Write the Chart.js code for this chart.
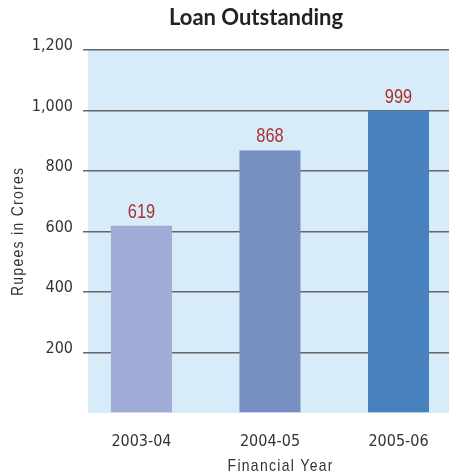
<!DOCTYPE html>
<html>
<head>
<meta charset="utf-8">
<script src="https://cdn.jsdelivr.net/npm/chart.js@4"></script>
<style>
  html, body { margin: 0; padding: 0; background: #fff; overflow: hidden; }
  #wrap { position: relative; width: 449px; height: 474px; }
</style>
</head>
<body>
<div id="wrap"><canvas id="loanChart" width="449" height="474"></canvas></div>
<script>
// Loan outstanding per financial year (Rs. crores)
const years = ['2003-04', '2004-05', '2005-06'];
const loanValues = [619, 868, 999];
const barColors = ['#a0acd6', '#788fc2', '#4782be'];
const yTicks = [0, 200, 400, 600, 800, 1000, 1200];

const chartTitle = 'Loan Outstanding';
const yTitle = 'Rupees in Crores';
const xTitle = 'Financial Year';

const condensed = '"DejaVu Sans Condensed", "DejaVu Sans", sans-serif';

// draw text squeezed horizontally (condensed look), optionally rotated
function drawSqueezed(ctx, text, x, y, opts) {
  ctx.save();
  ctx.translate(x, y);
  if (opts.rotate) ctx.rotate(opts.rotate);
  ctx.scale(opts.squeeze, 1);
  ctx.font = opts.font;
  ctx.fillStyle = opts.color;
  ctx.letterSpacing = (opts.spacing || 0) + 'px';
  ctx.textAlign = 'left';
  ctx.textBaseline = 'alphabetic';
  // measure without the trailing letter spacing so the text is centred
  const w = ctx.measureText(text).width - (opts.spacing || 0);
  ctx.fillText(text, -w / 2, 0);
  ctx.restore();
}

// light blue panel behind the plot
const plotBackground = {
  id: 'plotBackground',
  beforeDraw(chart) {
    const { ctx, chartArea } = chart;
    ctx.save();
    ctx.fillStyle = '#d7ebf9';
    ctx.fillRect(chartArea.left, chartArea.top, chartArea.right - chartArea.left, chartArea.bottom - chartArea.top);
    ctx.restore();
  }
};

// value above each bar, title and axis titles
const extraText = {
  id: 'extraText',
  afterDraw(chart) {
    const { ctx } = chart;
    const meta = chart.getDatasetMeta(0);
    meta.data.forEach((bar, i) => {
      drawSqueezed(ctx, String(loanValues[i]), bar.x, bar.y - 8, {
        font: '21px "Liberation Sans", sans-serif', squeeze: 0.78, color: '#a83232'
      });
    });

    ctx.save();
    ctx.fillStyle = '#222';
    ctx.font = 'bold 22px Lato, "Liberation Sans", sans-serif';
    ctx.textAlign = 'center';
    ctx.fillText(chartTitle, 256, 25);
    ctx.restore();

    drawSqueezed(ctx, xTitle, 280, 471, {
      font: '17px "Liberation Sans", sans-serif', squeeze: 0.82, spacing: 1.6, color: '#333'
    });
    drawSqueezed(ctx, yTitle, 23, 232, {
      font: '17px "Liberation Sans", sans-serif', squeeze: 0.82, spacing: 1.6, color: '#333',
      rotate: -Math.PI / 2
    });
  }
};

const ctx = document.getElementById('loanChart').getContext('2d');
const myChart = new Chart(ctx, {
  type: 'bar',
  data: {
    datasets: [{
      label: 'Loan Outstanding',
      data: loanValues.map((v, i) => ({ x: i, y: v })),
      backgroundColor: barColors,
      borderWidth: 0,
      barPercentage: 0.475,
      categoryPercentage: 1
    }]
  },
  options: {
    responsive: false,
    animation: false,
    layout: { padding: { top: 50, left: 0, right: 0, bottom: 0 } },
    plugins: {
      legend: { display: false },
      tooltip: { enabled: false },
      title: { display: false }
    },
    scales: {
      x: {
        type: 'linear',
        min: -0.416,
        max: 2.393,
        offset: false,
        grid: { display: false },
        border: { display: false },
        afterBuildTicks: scale => {
          scale.ticks = years.map((_, i) => ({ value: i }));
        },
        afterFit: scale => { scale.height = 61; },
        ticks: {
          color: '#333',
          padding: 11,
          font: { family: condensed, size: 16 },
          maxRotation: 0,
          callback: v => years[v]
        }
      },
      y: {
        min: 0,
        max: 1200,
        afterBuildTicks: scale => {
          scale.ticks = yTicks.map(v => ({ value: v }));
        },
        afterFit: scale => { scale.width = 88; },
        border: { display: false },
        grid: {
          color: c => (c.tick && c.tick.value === 0 ? 'rgba(0,0,0,0)' : '#666'),
          lineWidth: 1.5,
          tickLength: 5,
          drawTicks: true
        },
        ticks: {
          color: '#333',
          padding: 10,
          labelOffset: -4,
          font: { family: condensed, size: 16 },
          callback: v => (v === 0 ? '' : v.toLocaleString('en-US'))
        }
      }
    }
  },
  plugins: [plotBackground, extraText]
});
</script>
</body>
</html>
